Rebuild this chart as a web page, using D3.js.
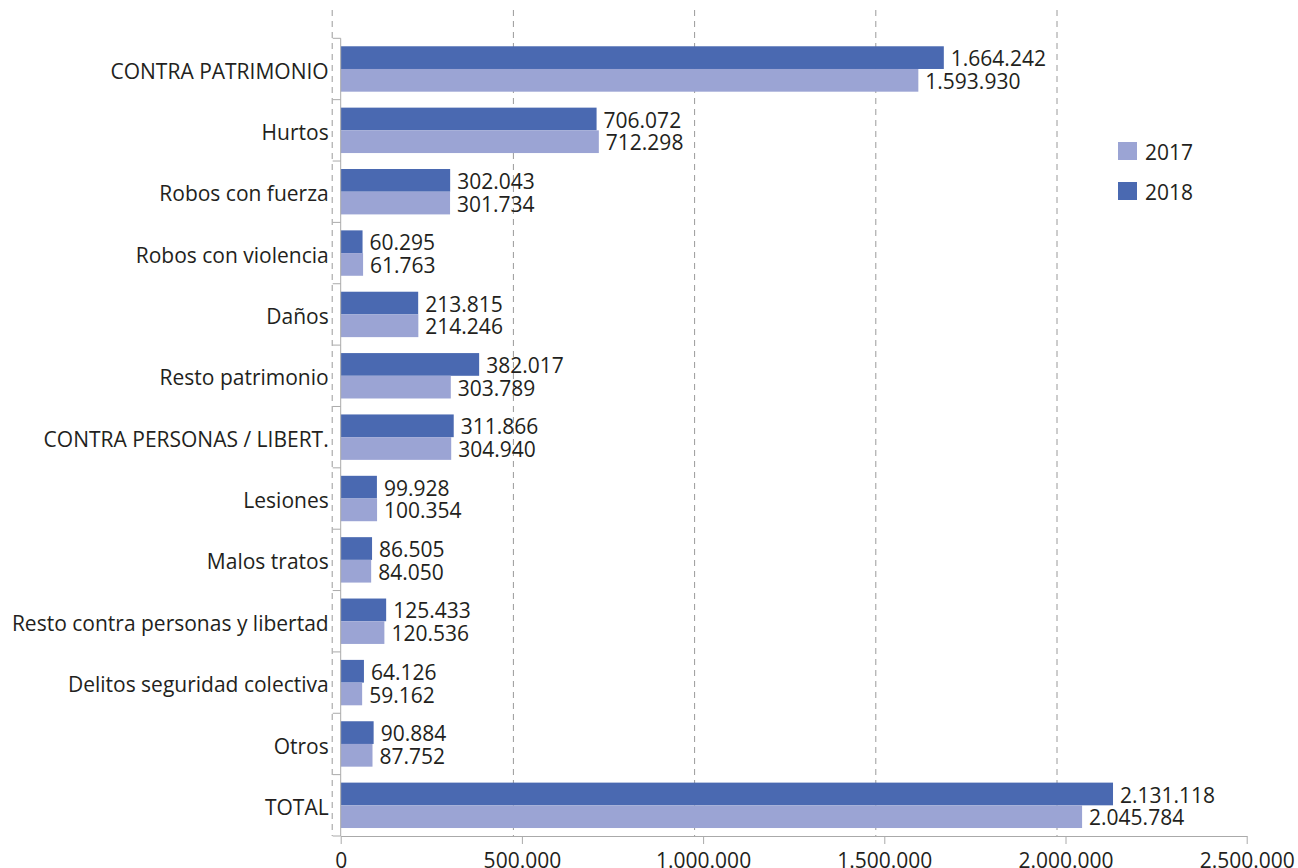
<!DOCTYPE html>
<html><head><meta charset="utf-8">
<script src="https://cdn.jsdelivr.net/npm/d3@7"></script>
<style>
body{margin:0;background:#fff;}
text{font-family:"Open Sans","Noto Sans",sans-serif;fill:#231f20;}
</style></head>
<body><svg id="chart" width="1298" height="868"></svg>
<script>
const categories = ["CONTRA PATRIMONIO","Hurtos","Robos con fuerza","Robos con violencia","Daños","Resto patrimonio","CONTRA PERSONAS / LIBERT.","Lesiones","Malos tratos","Resto contra personas y libertad","Delitos seguridad colectiva","Otros","TOTAL"];
const values2018 = [1664242,706072,302043,60295,213815,382017,311866,99928,86505,125433,64126,90884,2131118];
const values2017 = [1593930,712298,301734,61763,214246,303789,304940,100354,84050,120536,59162,87752,2045784];
const xTicks = [0,500000,1000000,1500000,2000000,2500000];
const seriesNames = ["2017","2018"];
const colors = {"2017":"#9ba4d4","2018":"#4a69b1"};

const svg = d3.select("#chart");
const x0 = 340.7, x1 = 1246.7, yTop = 38.3, yBot = 836;
const x = d3.scaleLinear().domain([0,2500000]).range([x0,x1]);
const y = d3.scaleBand().domain(categories).range([yTop,yBot]).paddingInner(0.26).paddingOuter(0.13);
const loc = d3.formatLocale({decimal:",",thousands:".",grouping:[3],currency:["","€"]});
const fmt = loc.format(",d");
const FS = 21;

// gridlines (dashed, offset left of ticks as in reference)
svg.append("g").selectAll("line").data(xTicks.slice(0,5)).join("line")
  .attr("x1",d=>x(d)-8.5).attr("x2",d=>x(d)-8.5).attr("y1",10).attr("y2",yBot)
  .attr("stroke","#9a9a9a").attr("stroke-width",1).attr("stroke-dasharray","6,5");

// bars
const bh = y.bandwidth()/2;
const g = svg.append("g");
g.selectAll("rect.b18").data(categories).join("rect").attr("class","b18")
  .attr("x",x0).attr("y",d=>y(d)).attr("height",bh)
  .attr("width",(d,i)=>x(values2018[i])-x0).attr("fill",colors["2018"]);
g.selectAll("rect.b17").data(categories).join("rect").attr("class","b17")
  .attr("x",x0).attr("y",d=>y(d)+bh).attr("height",bh)
  .attr("width",(d,i)=>x(values2017[i])-x0).attr("fill",colors["2017"]);
g.selectAll("text.l18").data(categories).join("text").attr("class","l18")
  .attr("x",(d,i)=>x(values2018[i])+7).attr("y",d=>y(d)+bh/2+1).attr("dy","0.36em")
  .attr("font-size",FS).text((d,i)=>fmt(values2018[i]));
g.selectAll("text.l17").data(categories).join("text").attr("class","l17")
  .attr("x",(d,i)=>x(values2017[i])+7).attr("y",d=>y(d)+bh*1.5+1).attr("dy","0.36em")
  .attr("font-size",FS).text((d,i)=>fmt(values2017[i]));

// x axis
const xa = svg.append("g").attr("transform",`translate(0,${yBot})`)
  .call(d3.axisBottom(x).tickValues(xTicks).tickFormat(fmt).tickSize(8).tickSizeOuter(0));
xa.select(".domain").attr("stroke","#aaa");
xa.selectAll(".tick line").attr("stroke","#aaa");
xa.selectAll(".tick text").attr("font-size",FS).attr("font-family","Open Sans").attr("fill","#231f20").attr("dy","1.0em");

// y axis line with boundary ticks
const ya = svg.append("g");
ya.append("line").attr("x1",x0).attr("x2",x0).attr("y1",yTop).attr("y2",yBot).attr("stroke","#aaa");
const bounds = categories.map(c=>y(c)-y.step()*y.paddingInner()/2).concat([yBot]);
bounds[0] = yTop;
ya.selectAll("line.t").data(bounds).join("line").attr("class","t")
  .attr("x1",x0-8).attr("x2",x0).attr("y1",d=>d).attr("y2",d=>d).attr("stroke","#aaa");
ya.selectAll("text").data(categories).join("text")
  .attr("x",x0-12).attr("y",d=>y(d)+y.bandwidth()/2+2).attr("dy","0.36em")
  .attr("text-anchor","end").attr("font-size",FS).text(d=>d);

// legend
const leg = svg.append("g");
seriesNames.forEach((s,i)=>{
  leg.append("rect").attr("x",1118).attr("y",142+i*40).attr("width",19).attr("height",18).attr("fill",colors[s]);
  leg.append("text").attr("x",1145).attr("y",152+i*40).attr("dy","0.36em").attr("font-size",FS).text(s);
});
</script></body></html>
